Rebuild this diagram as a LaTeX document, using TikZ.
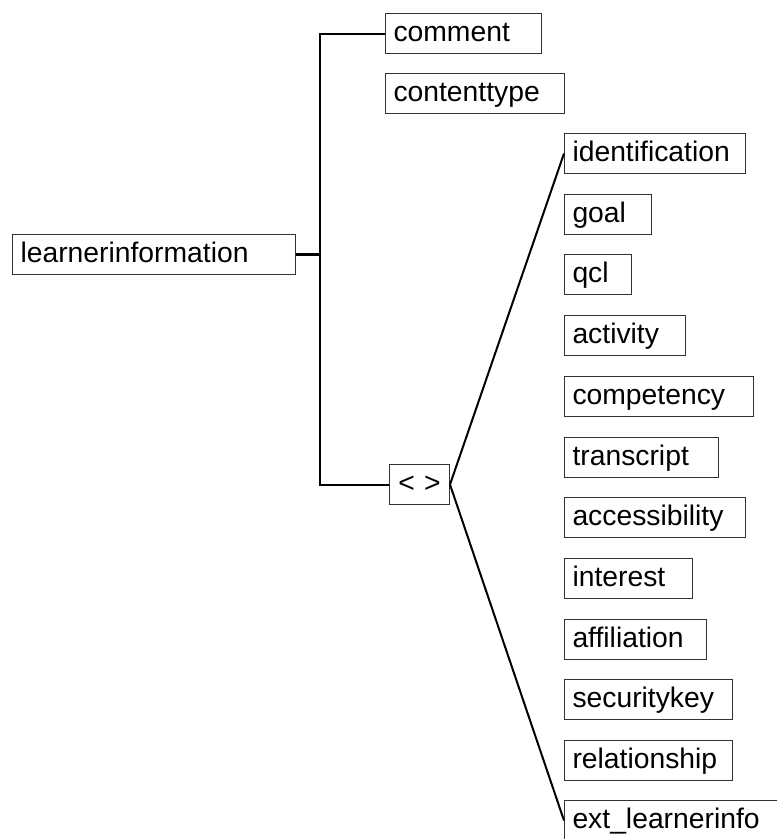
\documentclass[tikz,border=0pt]{standalone}
\usepackage{fontspec}
\setmainfont{Liberation Sans}
\begin{document}
\begin{tikzpicture}[x=1pt,y=-1pt,
  box/.style={draw=black!80, line width=1pt, anchor=north west, inner xsep=8pt, inner ysep=7.7pt,
    text height=20.3pt, text depth=4.3pt, align=left, minimum height=40pt,
    font=\fontsize{28.3}{34}\selectfont},
  conn/.style={line width=2pt, black},
  stub/.style={line width=3pt, black}]
\useasboundingbox (0,0) rectangle (777,839);
\newcommand{\bx}[5]{\node[box, text width=#4pt-16pt] (#1) at (#2,#3) {#5};}
\bx{li}{12}{234}{283}{learnerinformation}
\bx{comment}{385}{13}{156}{comment}
\bx{contenttype}{385}{73}{179}{contenttype}
\bx{identification}{564}{133}{181}{identification}
\bx{goal}{564}{193.7}{87}{goal}
\bx{qcl}{564}{254.4}{67}{qcl}
\bx{activity}{564}{315.1}{121}{activity}
\bx{competency}{564}{375.8}{189}{competency}
\bx{transcript}{564}{436.5}{154}{transcript}
\bx{accessibility}{564}{497.2}{181}{accessibility}
\bx{interest}{564}{557.9}{128}{interest}
\bx{affiliation}{564}{618.6}{142}{affiliation}
\bx{securitykey}{564}{679.3}{168}{securitykey}
\bx{relationship}{564}{740}{168}{relationship}
\bx{ext}{564}{800}{230}{ext\_learnerinfo}
\node[box, align=center, text width=44pt] (any) at (389,464) {< >};
\coordinate (tr) at (320,0);
\draw[stub] (li.east) -- (li.east -| tr);
\draw[conn] (comment.west) -- (comment.west -| tr) -- (any.west -| tr) -- (any.west);
\draw[conn] (any.east) -- (identification.west);
\draw[conn] (any.east) -- (ext.west);
\end{tikzpicture}
\end{document}
